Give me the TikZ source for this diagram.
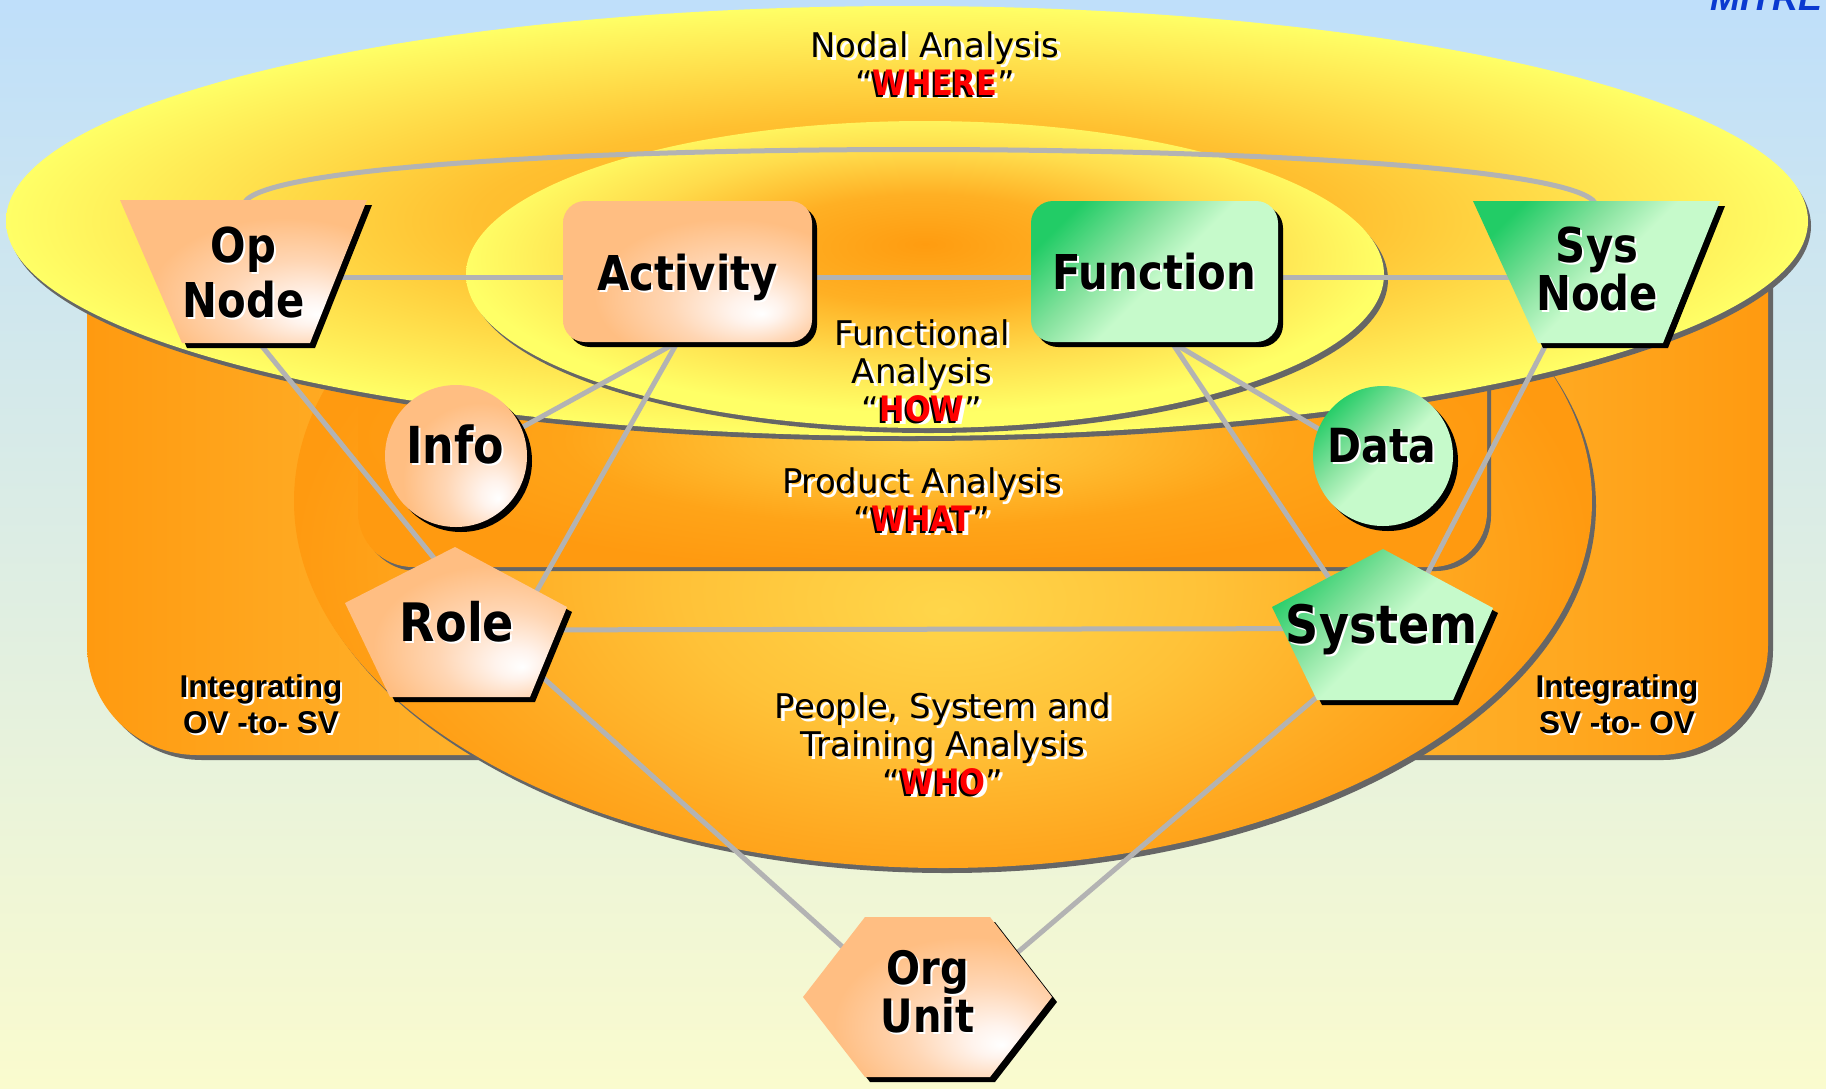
\documentclass[tikz,border=0pt]{standalone}
\usepackage{fontspec}
\usetikzlibrary{calc}

\newfontfamily\capfont{DejaVu Sans}
\newfontfamily\shapefont[FakeStretch=0.87]{DejaVu Sans}
\newfontfamily\bandfont{Liberation Sans}

\definecolor{skyblue}{HTML}{BFDFFA}
\definecolor{midbg}{HTML}{E3F1E4}
\definecolor{paleyellow}{HTML}{FAFBCE}
\definecolor{lemon}{HTML}{FFFF66}
\definecolor{tangerine}{HTML}{FF9A10}
\definecolor{shadowgray}{HTML}{666666}
\definecolor{linkgray}{HTML}{B3B3B3}
\definecolor{kwred}{HTML}{FF0000}
\definecolor{mitreblue}{HTML}{0A3AD0}
\definecolor{peach}{HTML}{FFBE82}
\definecolor{peachmid}{HTML}{FFD6B4}
\definecolor{peachpale}{HTML}{FFF3EC}
\definecolor{greenlight}{HTML}{C6FACB}
\definecolor{greenmid}{HTML}{86E29E}
\definecolor{greendeep}{HTML}{22CC66}
\definecolor{outerA}{HTML}{FFA21A}
\definecolor{outerB}{HTML}{FFC030}
\definecolor{outerC}{HTML}{FFE24E}
\definecolor{innerA}{HTML}{FF9C10}
\definecolor{innerB}{HTML}{FFB024}
\definecolor{innerC}{HTML}{FFDC4C}
\definecolor{whoA}{HTML}{FFD64A}
\definecolor{whoB}{HTML}{FFC238}
\definecolor{whoC}{HTML}{FFA820}
\definecolor{prodA}{HTML}{FFD044}
\definecolor{prodB}{HTML}{FFBC30}
\definecolor{prodC}{HTML}{FFA418}
\definecolor{bandA}{HTML}{FFA820}
\definecolor{bandB}{HTML}{FFC840}

% a shaded path spans the middle 50bp of the 100bp shading square
% fills of the element shapes
\pgfdeclareradialshading{peachfill}{\pgfpoint{15bp}{-15bp}}{color(0bp)=(white); color(5bp)=(peachpale); color(15bp)=(peachmid); color(27bp)=(peach); color(60bp)=(peach)}
\pgfdeclareverticalshading{greenfill}{100bp}{color(0bp)=(greenlight); color(48bp)=(greenlight); color(60bp)=(greenmid); color(76bp)=(greendeep); color(100bp)=(greendeep)}
% fills of the analysis regions
\pgfdeclareradialshading{outerfill}{\pgfpoint{0bp}{0bp}}{color(0bp)=(outerA); color(12bp)=(outerB); color(19bp)=(outerC); color(25bp)=(lemon); color(50bp)=(lemon)}
\pgfdeclareradialshading{innerfill}{\pgfpoint{0bp}{5bp}}{color(0bp)=(innerA); color(9bp)=(innerB); color(17bp)=(innerC); color(25bp)=(lemon); color(50bp)=(lemon)}
\pgfdeclareradialshading{whofill}{\pgfpoint{0bp}{-7.5bp}}{color(0bp)=(whoA); color(10bp)=(whoB); color(19bp)=(whoC); color(25bp)=(tangerine); color(50bp)=(tangerine)}
\pgfdeclareradialshading{prodfill}{\pgfpoint{0bp}{-2bp}}{color(0bp)=(prodA); color(8bp)=(prodB); color(16bp)=(prodC); color(25bp)=(tangerine); color(50bp)=(tangerine)}
\pgfdeclarehorizontalshading{bandfill}{100bp}{color(0bp)=(tangerine); color(25bp)=(tangerine); color(31bp)=(bandA); color(50bp)=(bandB); color(69bp)=(bandA); color(75bp)=(tangerine); color(100bp)=(tangerine)}

\pgfdeclarelayer{bg}
\pgfdeclarelayer{links}
\pgfdeclarelayer{shapes}
\pgfsetlayers{bg,links,shapes,main}

% red key words with a dark edge, and their plain form for the white drop copy
\newcommand\kwfont{\shapefont\bfseries\fontsize{35}{38}\selectfont}
\newcommand\kwshown[1]{{\kwfont\makebox[0pt][l]{\hspace{-2pt}\raisebox{-2pt}{\textcolor{black}{#1}}}\textcolor{kwred}{#1}}}
\newcommand\kwghost[1]{{\kwfont #1}}
\let\kw\kwshown
\newcommand\tagfont[2]{\shapefont\bfseries\fontsize{#1}{#2}\selectfont}

% label with a white copy shifted down-right behind it
\newcommand\castlabel[5]{%
  \global\let\kw\kwghost
  \node[#3, text=white, xshift=#4, yshift=-#4] at (#2) {#5};
  \global\let\kw\kwshown
  \node[#3] (#1) at (#2) {#5};}

% shape with a black drop shadow, outline given around the node centre
\newcommand\plate[3]{%
  \fill[black, shift={($(#1)+(5,5)$)}] #3;
  \shade[#2, shift={(#1)}] #3;}

\begin{document}
\begin{tikzpicture}[x=1pt, y=-1pt,
  area/.style={rectangle, inner sep=0pt, outer sep=0pt},
  tag/.style={inner sep=0pt, align=center, text depth=0pt},
  regioncap/.style={inner sep=0pt, align=center, text depth=0pt, font=\capfont\fontsize{34}{38}\selectfont},
  bandcap/.style={inner sep=0pt, align=center, text depth=0pt, font=\bandfont\bfseries\fontsize{31.5}{36}\selectfont},
  link/.style={draw=linkgray, line width=5pt},
  peachy/.style={shading=peachfill},
  leafy/.style={shading=greenfill, shading angle=45}]

\useasboundingbox (0,0) rectangle (1826,1088);

% areas taken by the element shapes
\node[area, minimum width=247pt, minimum height=143pt] (op) at (243.5,271.5) {};
\node[area, minimum width=249pt, minimum height=141pt] (act) at (687.5,271.5) {};
\node[area, minimum width=247pt, minimum height=141pt] (fun) at (1154.5,271.5) {};
\node[area, minimum width=247pt, minimum height=142pt] (sys) at (1596.5,272) {};
\node[area, minimum width=142pt, minimum height=142pt] (info) at (456,456) {};
\node[area, minimum width=140pt, minimum height=140pt] (data) at (1383,456) {};
\node[area, minimum width=222pt, minimum height=150pt] (role) at (456,622) {};
\node[area, minimum width=221pt, minimum height=151pt] (syst) at (1383,624.5) {};
\node[area, minimum width=249pt, minimum height=160pt] (org) at (927.5,997) {};

% backdrop and the nested analysis regions
\begin{pgfonlayer}{bg}
  \shade[top color=skyblue, middle color=midbg, bottom color=paleyellow] (0,0) rectangle (1826,1088);
  \fill[shadowgray, rounded corners=110pt] (92,155) rectangle (1773,760);
  \shade[shading=bandfill, rounded corners=110pt] (87,150) rectangle (1768,755);
  \fill[shadowgray] (947,506) ellipse [x radius=649, y radius=367];
  \shade[shading=whofill] (943,501) ellipse [x radius=649, y radius=367];
  \fill[shadowgray, rounded corners=55pt] (362,300) rectangle (1491,571);
  \shade[shading=prodfill, rounded corners=55pt] (358,296) rectangle (1487,567);
  \fill[shadowgray] (910,226) ellipse [x radius=901, y radius=215];
  \shade[shading=outerfill] (907,221) ellipse [x radius=901, y radius=215];
  \fill[shadowgray] (929,279.5) ellipse [x radius=459, y radius=153.5];
  \shade[shading=innerfill] (925,274.5) ellipse [x radius=459, y radius=153.5];
\end{pgfonlayer}

% relations between the elements
\begin{pgfonlayer}{links}
  \draw[link, shorten <=-6pt, shorten >=-6pt] (op.north) .. controls +(0,-70) and +(0,-70) .. (sys.north);
  \draw[link] ($(op)+(0,5.5)$) -- ($(act)+(0,5.5)$);
  \draw[link] ($(act)+(0,5.5)$) -- ($(fun)+(0,5.5)$);
  \draw[link] ($(fun)+(0,5.5)$) -- ($(sys)+(0,5)$);
  \draw[link] ($(op)+(-19,28.5)$) -- ($(role)+(12,-22)$);
  \draw[link, shorten <=-8pt] ($(act.south)+(-10,0)$) -- ($(info)+(14,0)$);
  \draw[link, shorten <=-8pt] ($(act.south)+(-10,0)$) -- ($(role)+(70,-12)$);
  \draw[link, shorten <=-8pt] ($(fun.south)+(17,0)$) -- ($(data)+(0,11)$);
  \draw[link, shorten <=-8pt] ($(fun.south)+(17,0)$) -- ($(syst)+(-23,0)$);
  \draw[link] ($(sys)+(-27.5,28)$) -- ($(syst)+(18,0)$);
  \draw[link] ($(role)+(0,8)$) -- ($(syst)+(0,4)$);
  \draw[link] ($(role)+(24,-1)$) -- ($(org)+(-27,2)$);
  \draw[link] ($(syst)+(0,16)$) -- ($(org)+(32,5)$);
\end{pgfonlayer}

% element shapes
\begin{pgfonlayer}{shapes}
  \plate{op}{peachy}{(-123.5,-71.5) -- (123.5,-71.5) -- (66.5,71.5) -- (-61.5,71.5) -- cycle}
  \plate{act}{peachy}{[rounded corners=22pt] (-124.5,-70.5) rectangle (124.5,70.5)}
  \plate{fun}{leafy}{[rounded corners=22pt] (-123.5,-70.5) rectangle (123.5,70.5)}
  \plate{sys}{leafy}{(-123.5,-71) -- (123.5,-71) -- (66.5,71) -- (-58.5,71) -- cycle}
  \plate{info}{peachy}{(0,0) circle [radius=71]}
  \plate{data}{leafy}{(0,0) circle [radius=70]}
  \plate{role}{peachy}{(-1,-75) -- (111,-15) -- (74,75) -- (-66,75) -- (-111,-19) -- cycle}
  \plate{syst}{leafy}{(0,-75.5) -- (110,-16.5) -- (70,75.5) -- (-66,75.5) -- (-111,-17.5) -- cycle}
  \plate{org}{peachy}{(-124.5,0) -- (-62.5,-80) -- (62.5,-80) -- (124.5,0) -- (62.5,80) -- (-62.5,80) -- cycle}
\end{pgfonlayer}

% element names
\castlabel{op-t}{243.5,272.5}{tag, font=\tagfont{48}{55}}{2pt}{Op\\Node}
\castlabel{act-t}{687.5,272.5}{tag, font=\tagfont{48}{55}}{2pt}{Activity}
\castlabel{fun-t}{1154,271.5}{tag, font=\tagfont{48}{55}}{2pt}{Function}
\castlabel{sys-t}{1597,269}{tag, font=\tagfont{48}{48}}{2pt}{Sys\\Node}
\castlabel{info-t}{455,444}{tag, font=\tagfont{51}{55}}{2pt}{Info}
\castlabel{data-t}{1382,445.5}{tag, font=\tagfont{47}{55}}{2pt}{Data}
\castlabel{role-t}{457,621.5}{tag, font=\tagfont{53}{55}}{2pt}{Role}
\castlabel{syst-t}{1382,624}{tag, font=\tagfont{53}{55}}{2pt}{System}
\castlabel{org-t}{927.5,991}{tag, font=\tagfont{46}{48}}{2pt}{Org\\Unit}

% region captions
\castlabel{nodal}{935,63.5}{regioncap}{3.5pt}{Nodal Analysis\\“\kw{WHERE}”}
\castlabel{functional}{922,370.5}{regioncap}{3.5pt}{Functional\\Analysis\\“\kw{HOW}”}
\castlabel{product}{922,500}{regioncap}{3.5pt}{Product Analysis\\“\kw{WHAT}”}
\castlabel{people}{943,743.5}{regioncap}{3.5pt}{People, System and\\Training Analysis\\“\kw{WHO}”}
\castlabel{ovsv}{261,704}{bandcap}{2pt}{Integrating\\OV -to- SV}
\castlabel{svov}{1617,704}{bandcap}{2pt}{Integrating\\SV -to- OV}

\node[inner sep=0pt, anchor=base east, text=mitreblue, font=\bandfont\bfseries\itshape\fontsize{36}{36}\selectfont] (mitre) at (1823,10) {MITRE};
\end{tikzpicture}
\end{document}
